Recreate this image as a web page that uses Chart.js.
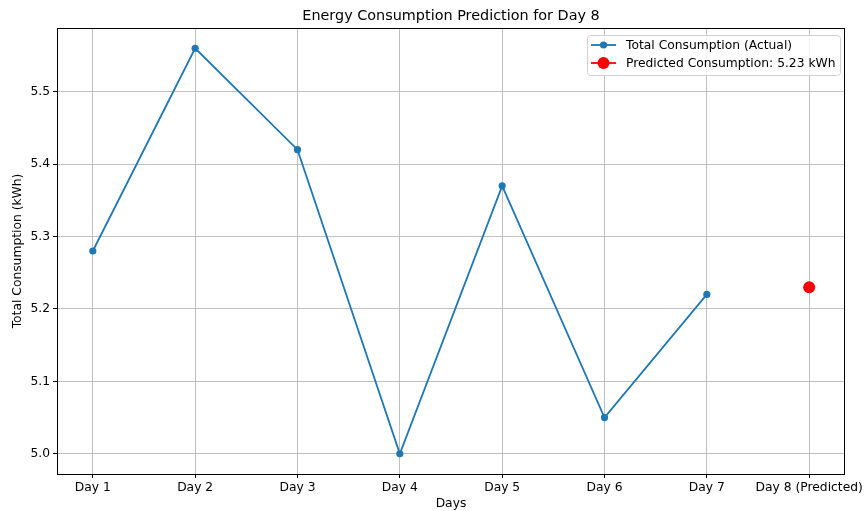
<!DOCTYPE html>
<html>
<head>
<meta charset="utf-8">
<script src="https://cdn.jsdelivr.net/npm/chart.js@4"></script>
<style>
  body { margin: 0; background: #fff; }
  #wrap { width: 864px; height: 511px; }
</style>
</head>
<body>
<div id="wrap"><canvas id="chart" width="864" height="511"></canvas></div>
<script>
// data
const days = ['Day 1', 'Day 2', 'Day 3', 'Day 4', 'Day 5', 'Day 6', 'Day 7', 'Day 8 (Predicted)'];
const actual = [5.28, 5.56, 5.42, 5.00, 5.37, 5.05, 5.22];
const predicted = 5.23;
const yTicks = [5.0, 5.1, 5.2, 5.3, 5.4, 5.5];

const FONT = "'DejaVu Sans', sans-serif";
const BLUE = '#1f77b4';

// title centred on the plot area, frame on all four sides, legend inside the axes
const extras = {
    id: 'extras',
    afterDraw(chart) {
        const c = chart.ctx;
        const a = chart.chartArea;
        c.save();
        c.strokeStyle = '#000';
        c.lineWidth = 1;
        c.strokeRect(Math.round(a.left) + 0.5, Math.round(a.top) + 0.5,
            Math.round(a.right - a.left) - 1, Math.round(a.bottom - a.top));

        c.fillStyle = '#000';
        c.font = '14.4px ' + FONT;
        c.textAlign = 'center';
        c.textBaseline = 'middle';
        c.fillText('Energy Consumption Prediction for Day 8', (a.left + a.right) / 2, 16);

        // legend
        const bx = 587, by = 35, bw = 253, bh = 40;
        c.fillStyle = 'rgba(255,255,255,0.8)';
        c.strokeStyle = '#d0d0d0';
        c.beginPath();
        c.roundRect(bx + 0.5, by + 0.5, bw, bh, 3);
        c.fill();
        c.stroke();

        const rows = [
            { text: 'Total Consumption (Actual)', color: BLUE, r: 3.6, y: 45 },
            { text: 'Predicted Consumption: ' + predicted.toFixed(2) + ' kWh', color: 'red', r: 6, y: 63 }
        ];
        rows.forEach(row => {
            c.strokeStyle = row.color;
            c.lineWidth = 1.8;
            c.beginPath();
            c.moveTo(591, row.y);
            c.lineTo(616, row.y);
            c.stroke();
            c.fillStyle = row.color;
            c.beginPath();
            c.arc(603.5, row.y, row.r, 0, Math.PI * 2);
            c.fill();
            c.fillStyle = '#000';
            c.font = '12.3px ' + FONT;
            c.textAlign = 'left';
            c.fillText(row.text, 626, row.y + 1);
        });
        c.restore();
    }
};

const ctx = document.getElementById('chart').getContext('2d');
const chart = new Chart(ctx, {
    type: 'line',
    data: {
        datasets: [{
            label: 'Total Consumption (Actual)',
            data: actual.map((v, i) => ({ x: i, y: v })),
            borderColor: BLUE,
            backgroundColor: BLUE,
            borderWidth: 1.8,
            pointRadius: 3.6,
            pointHoverRadius: 3.6,
            pointBorderWidth: 0,
            tension: 0,
            fill: false
        }, {
            label: 'Predicted Consumption',
            data: [{ x: actual.length, y: predicted }],
            borderColor: 'red',
            backgroundColor: 'red',
            pointRadius: 6,
            pointHoverRadius: 6,
            pointBorderWidth: 0,
            showLine: false
        }]
    },
    options: {
        responsive: false,
        animation: false,
        layout: { padding: { top: 28, right: 19, left: 0, bottom: 0 } },
        plugins: {
            legend: { display: false },
            title: { display: false },
            tooltip: { enabled: false }
        },
        scales: {
            x: {
                type: 'linear',
                min: -0.35,
                max: days.length - 1 + 0.35,
                afterBuildTicks: axis => { axis.ticks = days.map((d, i) => ({ value: i })); },
                afterFit: axis => {
                    axis.height = 37;
                    axis.paddingLeft = 0;
                    axis.paddingRight = 0;
                },
                grid: { color: '#b0b0b0', lineWidth: 0.8, tickColor: '#000', tickLength: 4, tickWidth: 1 },
                border: { display: false },
                ticks: {
                    color: '#000',
                    font: { family: FONT, size: 12.3 },
                    padding: 2,
                    maxRotation: 0,
                    autoSkip: false,
                    callback: v => days[v]
                },
                title: {
                    display: true,
                    text: 'Days',
                    color: '#000',
                    font: { family: FONT, size: 12.3 },
                    padding: { top: 4, bottom: 0 }
                }
            },
            y: {
                min: 4.972,
                max: 5.588,
                afterBuildTicks: axis => { axis.ticks = yTicks.map(v => ({ value: v })); },
                afterFit: axis => {
                    axis.width = 57;
                    axis.paddingTop = 0;
                    axis.paddingBottom = 0;
                },
                grid: { color: '#b0b0b0', lineWidth: 0.8, tickColor: '#000', tickLength: 4, tickWidth: 1 },
                border: { display: false },
                ticks: {
                    color: '#000',
                    font: { family: FONT, size: 12.3 },
                    padding: 3,
                    callback: v => v.toFixed(1)
                },
                title: {
                    display: true,
                    text: 'Total Consumption (kWh)',
                    color: '#000',
                    font: { family: FONT, size: 12.3 },
                    padding: { top: 10, bottom: 0 }
                }
            }
        }
    },
    plugins: [extras]
});
</script>
</body>
</html>
